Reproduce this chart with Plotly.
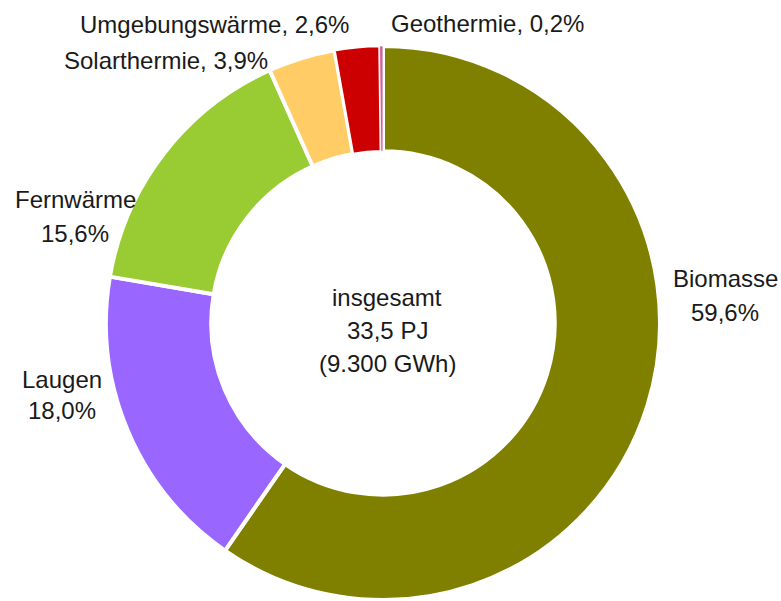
import plotly.graph_objects as go

labels = ["Biomasse", "Laugen", "Fernwärme", "Solarthermie", "Umgebungswärme", "Geothermie"]
values = [59.6, 18.0, 15.6, 3.9, 2.6, 0.2]
colors = ["#808000", "#9966FF", "#99CC33", "#FFCC66", "#CC0000", "#CC6699"]
label_lines = [["Biomasse", "59,6%"], ["Laugen", "18,0%"], ["Fernwärme", "15,6%"],
               ["Solarthermie, 3,9%"], ["Umgebungswärme, 2,6%"], ["Geothermie, 0,2%"]]
center_lines = ["insgesamt", "33,5 PJ", "(9.300 GWh)"]

W, H = 781, 601
FONT = "Liberation Sans, Arial, sans-serif"
FS = 24

fig = go.Figure(go.Pie(
    labels=labels, values=values, sort=False, direction="clockwise", rotation=0,
    hole=0.62, textinfo="none", hoverinfo="label+percent",
    marker=dict(colors=colors, line=dict(color="white", width=[4, 4, 4, 4, 2.5, 0.8])),
    domain=dict(x=[105 / W, 661 / W], y=[1 / H, 555 / H]),
    showlegend=False,
))

# label line anchor positions in pixels (center x, center y of each line)
pos = [[(725, 278), (725, 312)], [(62, 379), (62, 411)], [(75, 200), (75, 233)],
       [(166, 60)], [(215, 25)], [(487, 24)]]
center_pos = [(387, 297), (387, 330), (387, 363)]

ann = []
def add(t, px, py):
    ann.append(dict(text=t, x=px / W, y=1 - py / H, xref="paper", yref="paper",
                    showarrow=False, xanchor="center", yanchor="middle",
                    font=dict(size=FS, color="#1a1a1a", family=FONT)))

for lines, ps in zip(label_lines, pos):
    for t, (px, py) in zip(lines, ps):
        add(t, px, py)
for t, (px, py) in zip(center_lines, center_pos):
    add(t, px, py)

fig.update_layout(width=W, height=H, margin=dict(l=0, r=0, t=0, b=0),
                  paper_bgcolor="white", plot_bgcolor="white",
                  annotations=ann, font=dict(family=FONT))
fig.write_html("out.html", config={"displayModeBar": False},
               post_script="document.body.style.margin='0';document.body.style.padding='0';")
